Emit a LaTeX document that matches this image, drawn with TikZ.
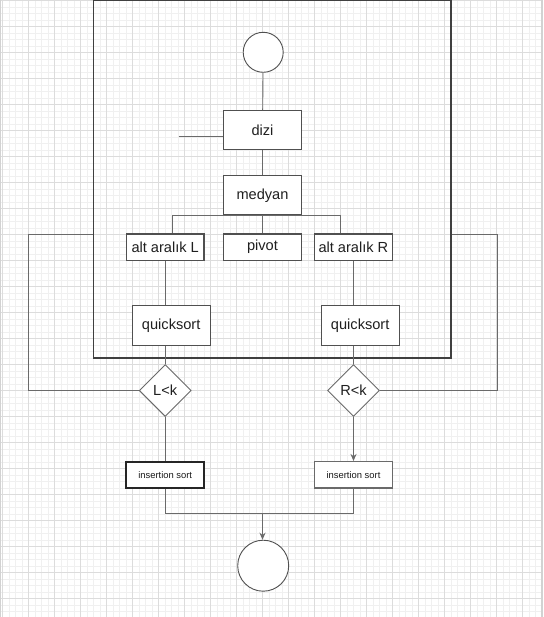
\documentclass[tikz,border=0pt]{standalone}
\usepackage{fontspec}
\setmainfont{Liberation Sans}
\usetikzlibrary{shapes.geometric,arrows.meta}
\definecolor{gridminor}{HTML}{F0F0F0}
\definecolor{gridmajor}{HTML}{DCDCDC}
\definecolor{edgegray}{HTML}{D2D2D2}
\definecolor{wire}{HTML}{6A6A6A}
\definecolor{boxline}{HTML}{505050}
\definecolor{framecol}{HTML}{404040}
\tikzset{
  box/.style={draw=boxline, line width=1.1pt, fill=white, inner sep=0pt,
    minimum width=77.6pt, font=\fontsize{14.6}{17}\selectfont, text=black!88},
  tall/.style={box, minimum height=39.3pt},
  flat/.style={box, minimum height=26.3pt},
  smallbox/.style={draw, fill=white, inner sep=0pt, minimum width=78.3pt,
    minimum height=26.3pt, font=\fontsize{9.4}{11}\selectfont, text=black!90},
  term/.style={circle, draw=boxline, line width=0.9pt, fill=white, inner sep=0pt},
  test/.style={diamond, draw=wire, line width=0.9pt, fill=white, inner sep=0pt,
    minimum width=52pt, minimum height=52pt, font=\fontsize{14.6}{17}\selectfont, text=black!88},
  wirestyle/.style={draw=wire, line width=0.9pt},
  arrowhead/.style={-{Stealth[length=7pt,width=6pt]}}
}
\begin{document}
\begin{tikzpicture}[x=1pt,y=-1pt]
% canvas and background grid
\useasboundingbox (0,0) rectangle (543,617);
\fill[white] (0,0) rectangle (543,617);
\foreach \k in {0,...,83} {
  \draw[gridminor, line width=0.6pt] ({2.3+6.5*\k},0) -- ({2.3+6.5*\k},617);
}
\foreach \k in {0,...,95} {
  \draw[gridminor, line width=0.6pt] (0,{0.5+6.5*\k}) -- (543,{0.5+6.5*\k});
}
\foreach \k in {0,...,20} {
  \draw[gridmajor, line width=0.7pt] ({2.3+26*\k},0) -- ({2.3+26*\k},617);
}
\foreach \k in {0,...,23} {
  \draw[gridmajor, line width=0.7pt] (0,{0.5+26*\k}) -- (543,{0.5+26*\k});
}
\draw[edgegray, line width=1.2pt] (0.8,0) -- (0.8,617);
\draw[edgegray, line width=1.6pt] (541.8,0) -- (541.8,617);

% enclosing frame of the recursive part
\node[draw=framecol, line width=1.5pt, inner sep=0pt, minimum width=357.4pt,
      minimum height=357.5pt] (frame) at (272.2,179.0) {};

% nodes
\node[term, minimum size=40pt] (start) at (263.2,52.3) {};
\node[tall] (dizi) at (262.5,130.3) {dizi};
\node[tall] (medyan) at (262.5,195.3) {medyan};
\node[flat] (altL) at (165.2,247.2) {alt aralık L};
\node[flat] (pivot) at (262.5,247.2) {pivot};
\node[flat] (altR) at (353.4,247.2) {alt aralık R};
\node[tall, minimum width=77.9pt] (qsL) at (171.2,325.5) {quicksort};
\node[tall, minimum width=77.9pt] (qsR) at (360.2,325.5) {quicksort};
\node[test] (dL) at (165.2,390.5) {L<k};
\node[test] (dR) at (353.5,390.5) {R<k};
\node[smallbox, draw=black!85, line width=2pt] (insL) at (165.2,474.8) {insertion sort};
\node[smallbox, draw=wire, line width=1.4pt] (insR) at (353.5,474.8) {insertion sort};
\node[term, minimum size=51pt] (stop) at (263.2,565.7) {};

% helper points
\coordinate (stub) at (178.7,136.7);
\coordinate (brL) at (172.1,215);
\coordinate (brR) at (340.8,215);
\coordinate (loopL) at (28.4,234);
\coordinate (loopR) at (497,234);
\coordinate (join) at (262.5,513.7);

% connectors
\path[wirestyle] (start) -- (dizi);
\path[wirestyle] (stub) -- (stub -| dizi.west);
\path[wirestyle] (dizi) -- (medyan);
\path[wirestyle] (brL) -- (brR);
\path[wirestyle] (brL) -- (brL |- altL.north);
\path[wirestyle] (brR) -- (brR |- altR.north);
\path[wirestyle] (medyan) -- (pivot);
\path[wirestyle] (altL.south) -- (altL.south |- qsL.north);
\path[wirestyle] (altR.south) -- (altR.south |- qsR.north);
\path[wirestyle] (dL.north |- qsL.south) -- (dL.north);
\path[wirestyle] (dR.north |- qsR.south) -- (dR.north);
\path[wirestyle] (dL.west) -| (loopL) -- (loopL -| frame.west);
\path[wirestyle] (dR.east) -| (loopR) -- (loopR -| frame.east);
\path[wirestyle] (dL.south) -- (insL.north);
\path[wirestyle, arrowhead] (dR.south) -- (insR.north);
\path[wirestyle] (insL.south) |- (join) -| (insR.south);
\path[wirestyle, arrowhead] (join) -- (join |- stop.north);
\end{tikzpicture}
\end{document}
